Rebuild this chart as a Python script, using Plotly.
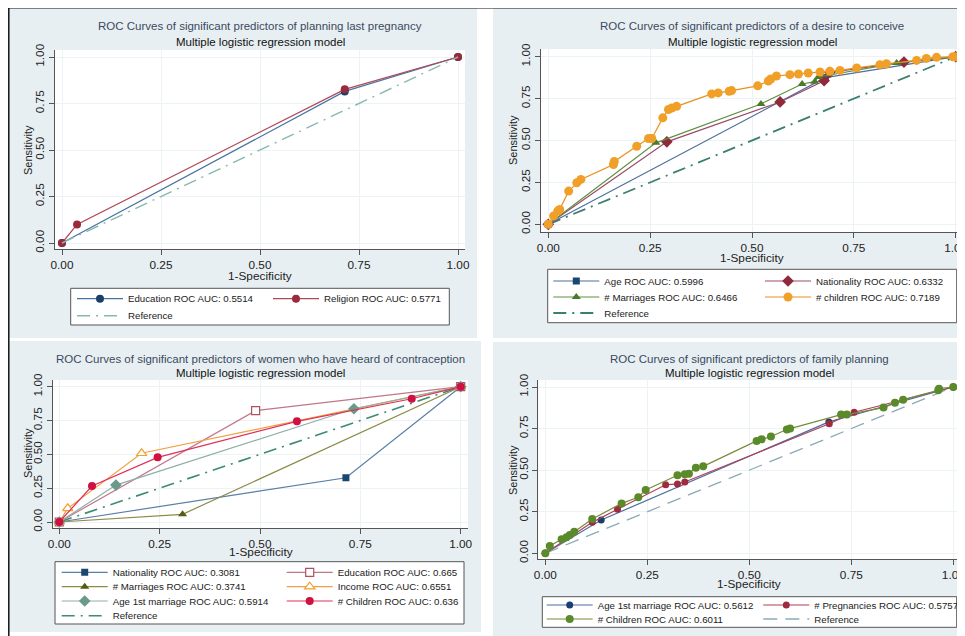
import plotly.graph_objects as go

# page body has an 8px margin; figure is sized to fit the visible window
OX, OY = 8, 8
W, H = 965 - OX, 636 - OY

# ---------------- data ----------------
ref_x = [0, 1]
ref_y = [0, 1]
tick_vals = [0, 0.25, 0.5, 0.75, 1]
tick_text = ["0.00", "0.25", "0.50", "0.75", "1.00"]

# Panel 1: planning last pregnancy
p1_edu_x = [0, 0.714, 1]
p1_edu_y = [0, 0.815, 1]
p1_rel_x = [0, 0.038, 0.714, 1]
p1_rel_y = [0, 0.100, 0.826, 1]

# Panel 2: desire to conceive
p2_age_x = [0, 0.680, 1]
p2_age_y = [0, 0.875, 1]
p2_nat_x = [0, 0.291, 0.569, 0.677, 0.691, 0.873, 1]
p2_nat_y = [0, 0.492, 0.730, 0.857, 0.907, 0.968, 1]
p2_mar_x = [0, 0.264, 0.522, 0.623, 0.654, 0.663, 0.855, 1]
p2_mar_y = [0, 0.486, 0.718, 0.837, 0.851, 0.879, 0.962, 1]
p2_chi_x = [0, 0.013, 0.023, 0.028, 0.050, 0.070, 0.080, 0.160, 0.162, 0.217,
            0.246, 0.254, 0.281, 0.295, 0.303, 0.315, 0.401, 0.417, 0.444, 0.450,
            0.514, 0.540, 0.546, 0.560, 0.593, 0.614, 0.638, 0.667, 0.691, 0.716,
            0.757, 0.814, 0.830, 0.904, 0.928, 0.953, 0.993, 1]
p2_chi_y = [0, 0.050, 0.079, 0.089, 0.198, 0.248, 0.268, 0.357, 0.375, 0.466,
            0.512, 0.512, 0.635, 0.685, 0.694, 0.704, 0.778, 0.784, 0.794, 0.798,
            0.826, 0.855, 0.867, 0.885, 0.893, 0.897, 0.903, 0.909, 0.913, 0.918,
            0.933, 0.952, 0.958, 0.978, 0.990, 0.996, 1.0, 1]

# Panel 3: heard of contraception
p3_nat_x = [0, 0.714, 1]
p3_nat_y = [0, 0.327, 1]
p3_edu_x = [0, 0.489, 1]
p3_edu_y = [0, 0.823, 1]
p3_mar_x = [0, 0.307, 1]
p3_mar_y = [0, 0.057, 1]
p3_inc_x = [0, 0.021, 0.205, 1]
p3_inc_y = [0, 0.101, 0.508, 1]
p3_age_x = [0, 0.141, 0.734, 1]
p3_age_y = [0, 0.273, 0.837, 1]
p3_chi_x = [0, 0.0815, 0.245, 0.592, 0.878, 1]
p3_chi_y = [0, 0.266, 0.478, 0.744, 0.911, 1]

# Panel 4: family planning
p4_age_x = [0, 0.137, 0.695, 1]
p4_age_y = [0, 0.200, 0.790, 1]
p4_preg_x = [0, 0.115, 0.177, 0.295, 0.324, 0.342, 0.696, 0.757, 1]
p4_preg_y = [0, 0.186, 0.265, 0.412, 0.417, 0.429, 0.779, 0.848, 1]
p4_chi_x = [0, 0.011, 0.040, 0.052, 0.060, 0.071, 0.115, 0.187, 0.228, 0.246,
            0.324, 0.342, 0.352, 0.369, 0.387, 0.518, 0.530, 0.553, 0.592, 0.600,
            0.725, 0.739, 0.829, 0.857, 0.877, 0.963, 0.965, 1]
p4_chi_y = [0, 0.044, 0.084, 0.096, 0.110, 0.130, 0.206, 0.300, 0.337, 0.381,
            0.469, 0.475, 0.479, 0.515, 0.523, 0.676, 0.686, 0.702, 0.744, 0.750,
            0.834, 0.834, 0.876, 0.906, 0.924, 0.980, 0.990, 1]

titles = [
    "ROC Curves of significant predictors of planning last pregnancy",
    "ROC Curves of significant predictors of a desire to conceive",
    "ROC Curves of significant predictors of women who have heard of contraception",
    "ROC Curves of significant predictors of family planning",
]
subtitle = "Multiple logistic regression model"

# ---------------- geometry (window pixels) ----------------
FONT = "Liberation Sans, Arial, sans-serif"
BG = "#e8eff2"


def xp(px):
    return (px - OX) / W


def yp(py):
    return 1 - (py - OY) / H


panels = {
    1: dict(L=55, R=465, T=50, B=249, x0=62, x1=458, y0=243, y1=57,
            box=(9, 8, 477, 338), title=(260, 26, 42), xt=(260, 276), yt=(28, 150),
            leg=(70.7, 288.3, 449.3, 325)),
    2: dict(L=541, R=963, T=49, B=232, x0=548.3, x1=955.7, y0=224.3, y1=56.7,
            box=(493, 8, 965, 338), title=(752, 26, 42), xt=(752, 258), yt=(513, 140),
            leg=(547.7, 269.3, 956.7, 322.7)),
    3: dict(L=52.7, R=468, T=380, B=528, x0=59.3, x1=460.7, y0=522, y1=386.7,
            box=(9, 341, 481, 632), title=(260, 359, 373), xt=(261, 552), yt=(28, 453),
            leg=(55, 561.7, 464, 624)),
    4: dict(L=538.3, R=963, T=380, B=559, x0=545.3, x1=953.3, y0=553.3, y1=387,
            box=(493, 342, 965, 636), title=(749, 359, 373), xt=(749, 584), yt=(513, 470),
            leg=(542.3, 596.7, 956.7, 627.3)),
}

fig = go.Figure()
legend_count = [0]
legend_layouts = {}


def add(panel, xs, ys, name, lcolor, mcolor, symbol, msize, lx, ly,
        dash=None, lwidth=1.2, mode="lines+markers", mline=None):
    legend_count[0] += 1
    n = legend_count[0]
    lname = "legend" if n == 1 else f"legend{n}"
    ax = "" if panel == 1 else str(panel)
    marker = dict(symbol=symbol, size=msize, color=mcolor)
    if mline:
        marker["line"] = dict(color=mline, width=1.2)
    fig.add_trace(go.Scatter(
        x=xs, y=ys, name=name, mode=mode, xaxis="x" + ax, yaxis="y" + ax,
        line=dict(color=lcolor, width=lwidth, dash=dash),
        marker=marker, legend=lname, hoverinfo="skip"))
    legend_layouts[lname] = dict(
        x=xp(lx - 5), y=yp(ly), xanchor="left", yanchor="middle",
        bgcolor="rgba(0,0,0,0)", borderwidth=0, itemwidth=46,
        font=dict(family=FONT, size=9.7, color="#1a1a1a"))


DASH = "13px,6px,2px,6px"

# Panel 1
add(1, p1_edu_x, p1_edu_y, "Education ROC AUC: 0.5514", "#4574a4", "#1a3f6a", "circle", 8, 77, 298.7)
add(1, p1_rel_x, p1_rel_y, "Religion ROC AUC: 0.5771", "#b04656", "#9a2a3c", "circle", 8, 273, 298.7)
add(1, ref_x, ref_y, "Reference", "#8ab8ae", "#8ab8ae", "circle", 1, 77, 315.7, dash=DASH, lwidth=1.4, mode="lines")

# Panel 2
add(2, ref_x, ref_y, "Reference", "#3a7f70", "#3a7f70", "circle", 1, 553.3, 313, dash=DASH, lwidth=1.8, mode="lines")
add(2, p2_age_x, p2_age_y, "Age ROC AUC: 0.5996", "#4f6f9c", "#1a476f", "square", 7, 553.3, 281)
add(2, p2_nat_x, p2_nat_y, "Nationality ROC AUC: 0.6332", "#9a4a68", "#8e2a3c", "diamond", 9, 765, 281)
add(2, p2_mar_x, p2_mar_y, "# Marriages ROC AUC: 0.6466", "#5f9040", "#4a7a2a", "triangle-up", 8, 553.3, 297)
add(2, p2_chi_x, p2_chi_y, "# children ROC AUC: 0.7189", "#e8901e", "#f0a028", "circle", 9, 765, 297)

# Panel 3
add(3, ref_x, ref_y, "Reference", "#3f8a72", "#3f8a72", "circle", 1, 61.7, 615.7, dash=DASH, lwidth=1.6, mode="lines")
add(3, p3_nat_x, p3_nat_y, "Nationality ROC AUC: 0.3081", "#5a7ea6", "#1a476f", "square", 7, 61.7, 572.3)
add(3, p3_edu_x, p3_edu_y, "Education ROC AUC: 0.665", "#c07888", "#ffffff", "square", 8, 286.7, 572.3, mline="#b05060")
add(3, p3_mar_x, p3_mar_y, "# Marriages ROC AUC: 0.3741", "#8c8c48", "#5a5a14", "triangle-up", 8, 61.7, 586.7)
add(3, p3_inc_x, p3_inc_y, "Income ROC AUC: 0.6551", "#f0a040", "#ffffff", "triangle-up", 9, 286.7, 586.7, mline="#f0a030")
add(3, p3_age_x, p3_age_y, "Age 1st marriage ROC AUC: 0.5914", "#8fb0a6", "#6a9a8a", "diamond", 9, 61.7, 601)
add(3, p3_chi_x, p3_chi_y, "# Children ROC AUC: 0.636", "#e0305a", "#d01040", "circle", 8, 286.7, 601)

# Panel 4
add(4, ref_x, ref_y, "Reference", "#8aaab5", "#8aaab5", "circle", 1, 763.3, 619, dash="14px,8px", lwidth=1.3, mode="lines")
add(4, p4_age_x, p4_age_y, "Age 1st marriage ROC AUC: 0.5612", "#4a6fa0", "#1a3f6f", "circle", 7, 546.7, 605)
add(4, p4_preg_x, p4_preg_y, "# Pregnancies ROC AUC: 0.5757", "#b0405a", "#a02a40", "circle", 7, 763.3, 605)
add(4, p4_chi_x, p4_chi_y, "# Children ROC AUC: 0.6011", "#7a8a3a", "#5a8a2a", "circle", 8, 546.7, 619)

shapes = []
annotations = []
layout_axes = {}

# panel backgrounds
for k, p in panels.items():
    x0, y0, x1, y1 = p["box"]
    shapes.append(dict(type="rect", xref="paper", yref="paper", layer="below",
                       x0=xp(x0), x1=xp(x1), y0=yp(y1), y1=yp(y0),
                       fillcolor=BG, line=dict(width=0)))
for k, p in panels.items():
    shapes.append(dict(type="rect", xref="paper", yref="paper", layer="below",
                       x0=xp(p["L"]), x1=xp(p["R"]), y0=yp(p["B"]), y1=yp(p["T"]),
                       fillcolor="white", line=dict(width=0)))
    lx0, ly0, lx1, ly1 = p["leg"]
    shapes.append(dict(type="rect", xref="paper", yref="paper", layer="below",
                       x0=xp(lx0), x1=xp(lx1), y0=yp(ly1), y1=yp(ly0),
                       fillcolor="white", line=dict(width=1, color="#555555")))

    sx = p["x1"] - p["x0"]
    sy = p["y0"] - p["y1"]
    rx = [(p["L"] - p["x0"]) / sx, (p["R"] - p["x0"]) / sx]
    ry = [(p["y0"] - p["B"]) / sy, (p["y0"] - p["T"]) / sy]
    axis_common = dict(tickvals=tick_vals, ticktext=tick_text, ticks="outside", ticklen=5,
                       tickcolor="#555", showline=True, linecolor="#555", linewidth=1,
                       showgrid=True, gridcolor="#edf2f4", gridwidth=1, zeroline=False,
                       ticklabeloverflow="allow",
                       tickfont=dict(family=FONT, size=11.8, color="#222"), fixedrange=True)
    xname = "xaxis" if k == 1 else f"xaxis{k}"
    yname = "yaxis" if k == 1 else f"yaxis{k}"
    ysuf = "y" if k == 1 else f"y{k}"
    xsuf = "x" if k == 1 else f"x{k}"
    layout_axes[xname] = dict(domain=[xp(p["L"]), min(1, xp(p["R"]))], range=rx, anchor=ysuf, **axis_common)
    layout_axes[yname] = dict(domain=[yp(p["B"]), yp(p["T"])], range=ry, anchor=xsuf,
                              tickangle=-90, **axis_common)

    tx, ty1, ty2 = p["title"]
    annotations.append(dict(text=titles[k - 1], x=xp(tx), y=yp(ty1), xref="paper", yref="paper",
                            showarrow=False, xanchor="center", yanchor="middle",
                            font=dict(family=FONT, size=11.5, color="#3a4a60")))
    annotations.append(dict(text=subtitle, x=xp(tx), y=yp(ty2), xref="paper", yref="paper",
                            showarrow=False, xanchor="center", yanchor="middle",
                            font=dict(family=FONT, size=11.5, color="#111111")))
    annotations.append(dict(text="1-Specificity", x=xp(p["xt"][0]), y=yp(p["xt"][1]),
                            xref="paper", yref="paper", showarrow=False,
                            xanchor="center", yanchor="middle",
                            font=dict(family=FONT, size=11.8, color="#222")))
    annotations.append(dict(text="Sensitivity", x=xp(p["yt"][0]), y=yp(p["yt"][1]),
                            xref="paper", yref="paper", showarrow=False, textangle=-90,
                            xanchor="center", yanchor="middle",
                            font=dict(family=FONT, size=11, color="#222")))

# outer black border lines (top and left)
shapes.append(dict(type="line", xref="paper", yref="paper", x0=xp(8), x1=1, y0=yp(7.8), y1=yp(7.8),
                   line=dict(color="#111", width=1.5)))
shapes.append(dict(type="line", xref="paper", yref="paper", x0=xp(8.8), x1=xp(8.8), y0=0, y1=yp(7.8),
                   line=dict(color="#111", width=1.5)))

fig.update_layout(
    width=W, height=H, margin=dict(l=0, r=0, t=0, b=0, autoexpand=False),
    paper_bgcolor="white", plot_bgcolor="white",
    showlegend=True, shapes=shapes, annotations=annotations,
    font=dict(family=FONT),
    **layout_axes, **legend_layouts)

fig.write_html("out.html")
